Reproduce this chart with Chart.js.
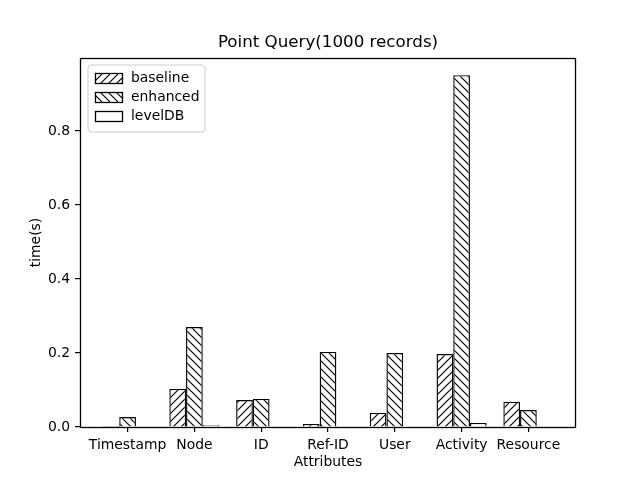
<!DOCTYPE html>
<html>
<head>
<meta charset="utf-8">
<script src="https://cdn.jsdelivr.net/npm/chart.js@4.4.0/dist/chart.umd.min.js"></script>
<style>
  html, body { margin: 0; padding: 0; background: #fff; }
</style>
</head>
<body>
<canvas id="chart" width="640" height="480"></canvas>
<script>
const categories = ["Timestamp", "Node", "ID", "Ref-ID", "User", "Activity", "Resource"];
const baseline = [0.003, 0.103, 0.073, 0.008, 0.038, 0.197, 0.068];
const enhanced = [0.027, 0.270, 0.076, 0.203, 0.200, 0.951, 0.046];
const leveldb = [0.002, 0.005, 0.002, 0.002, 0.002, 0.011, 0.002];
const series_names = ["baseline", "enhanced", "levelDB"];
const y_ticks = [0, 0.2, 0.4, 0.6, 0.8];

const FONT = "'DejaVu Sans', sans-serif";
const canvas = document.getElementById("chart");
const ctx = canvas.getContext("2d");

// matplotlib-like hatch tiles
const makeHatch = (dir) => {
  const size = 8;
  const tile = document.createElement("canvas");
  tile.width = size;
  tile.height = size;
  const g = tile.getContext("2d");
  g.fillStyle = "#fff";
  g.fillRect(0, 0, size, size);
  g.strokeStyle = "#000";
  g.lineWidth = 1.2;
  g.beginPath();
  if (dir === "/") {
    g.moveTo(-1, size + 1); g.lineTo(size + 1, -1);
    g.moveTo(-1, 1); g.lineTo(1, -1);
    g.moveTo(size - 1, size + 1); g.lineTo(size + 1, size - 1);
  } else {
    g.moveTo(-1, -1); g.lineTo(size + 1, size + 1);
    g.moveTo(size - 1, -1); g.lineTo(size + 1, 1);
    g.moveTo(-1, size - 1); g.lineTo(1, size + 1);
  }
  g.stroke();
  return ctx.createPattern(tile, "repeat");
};

const fills = [makeHatch("/"), makeHatch("\\"), "#fff"];
const toPoints = (arr) => arr.map((y, i) => ({ x: i, y: y }));

const framePlugin = {
  id: "frame",
  afterDraw(chart) {
    const { ctx, chartArea: { left, top, right, bottom } } = chart;
    ctx.save();
    ctx.strokeStyle = "#000";
    ctx.lineWidth = 1.3;
    ctx.strokeRect(Math.round(left) + 0.5, Math.round(top) + 0.5,
      Math.round(right - left) - 1, Math.round(bottom - top));
    ctx.fillStyle = "#000";
    ctx.font = "16.7px " + FONT;
    ctx.textAlign = "center";
    ctx.textBaseline = "middle";
    ctx.fillText("Point Query(1000 records)", (left + right) / 2, 43);

    // legend box
    const bx = 88, by = 65, bw = 117, bh = 67, r = 3;
    ctx.lineWidth = 1;
    ctx.beginPath();
    ctx.moveTo(bx + r, by);
    ctx.arcTo(bx + bw, by, bx + bw, by + bh, r);
    ctx.arcTo(bx + bw, by + bh, bx, by + bh, r);
    ctx.arcTo(bx, by + bh, bx, by, r);
    ctx.arcTo(bx, by, bx + bw, by, r);
    ctx.closePath();
    ctx.fillStyle = "rgba(255,255,255,0.8)";
    ctx.fill();
    ctx.strokeStyle = "#cccccc";
    ctx.stroke();

    ctx.font = "13.9px " + FONT;
    ctx.textAlign = "left";
    series_names.forEach((name, i) => {
      const cy = 78 + i * 19.2;
      ctx.fillStyle = fills[i];
      ctx.fillRect(95, cy - 5, 28, 10);
      ctx.strokeStyle = "#000";
      ctx.lineWidth = 1.3;
      ctx.strokeRect(95.5, Math.round(cy - 5) + 0.5, 27, 10);
      ctx.fillStyle = "#000";
      ctx.fillText(name, 131, cy);
    });
    ctx.restore();
  },
};

new Chart(canvas, {
  type: "bar",
  data: {
    datasets: [baseline, enhanced, leveldb].map((values, i) => ({
      label: series_names[i],
      data: toPoints(values),
      backgroundColor: fills[i],
      borderColor: "#000",
      borderWidth: 1.4,
      categoryPercentage: 0.75,
      barPercentage: 1.0,
    })),
  },
  options: {
    responsive: false,
    animation: false,
    devicePixelRatio: 1,
    layout: { padding: { top: 58, right: 64, bottom: 0, left: 0 } },
    plugins: {
      legend: { display: false },
      title: { display: false },
      tooltip: { enabled: false },
    },
    scales: {
      x: {
        type: "linear",
        min: -0.7125,
        max: 6.7125,
        offset: false,
        afterBuildTicks: (axis) => {
          axis.ticks = categories.map((_, i) => ({ value: i }));
        },
        afterFit: (axis) => { axis.height = 53; },
        ticks: {
          callback: (v) => categories[v],
          font: { family: FONT, size: 13.9 },
          color: "#000",
          padding: 5,
          autoSkip: false,
          maxRotation: 0,
        },
        grid: { drawOnChartArea: false, offset: false, tickLength: 5, color: "#000", lineWidth: 1.2 },
        border: { display: false },
        title: {
          display: true,
          text: "Attributes",
          font: { family: FONT, size: 13.9 },
          color: "#000",
          padding: { top: 0, bottom: 9 },
        },
      },
      y: {
        min: 0,
        max: 0.9975,
        afterBuildTicks: (axis) => {
          axis.ticks = y_ticks.map((v) => ({ value: v }));
        },
        afterFit: (axis) => { axis.width = 80; },
        ticks: {
          callback: (v) => v.toFixed(1),
          font: { family: FONT, size: 13.9 },
          color: "#000",
          padding: 5,
        },
        grid: { drawOnChartArea: false, tickLength: 5, color: "#000", lineWidth: 1.2 },
        border: { display: false },
        title: {
          display: true,
          text: "time(s)",
          font: { family: FONT, size: 13.9 },
          color: "#000",
          padding: { top: 28, bottom: 0 },
        },
      },
    },
  },
  plugins: [framePlugin],
});
</script>
</body>
</html>
